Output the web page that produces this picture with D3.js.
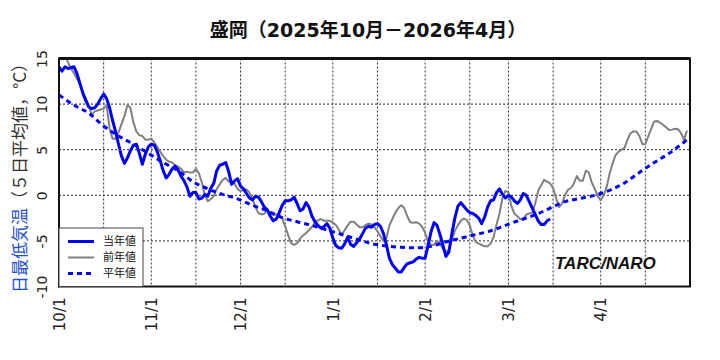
<!DOCTYPE html>
<html><head><meta charset="utf-8">
<script src="https://cdn.jsdelivr.net/npm/d3@7"></script>
<style>body{margin:0;background:#fff;}svg{display:block;}</style>
</head><body>
<script>
// ---- data (day offsets from 2025-10-01) ----
const startDate = new Date(2025, 9, 1);
const endDate = new Date(2026, 4, 1);
const monthLabels = ["10/1","11/1","12/1","1/1","2/1","3/1","4/1"];
const yTicks = [15, 10, 5, 0, -5, -10];
const legendLabels = ["当年値", "前年値", "平年値"];

// 当年値 (daily, from 10/1)
const currentValues = [
 14.1,13.6,14.1,13.9,14.0,14.1,13.4,12.3,11.2,10.4,
 9.7,9.5,9.6,10.0,10.6,11.1,10.6,9.6,8.2,7.0,
 5.6,4.3,3.5,4.1,4.9,5.5,5.6,4.6,3.4,4.5,
 5.3,5.6,5.5,4.8,3.8,2.7,1.9,2.3,2.9,3.2,
 2.8,2.1,1.6,0.9,-0.1,0.3,0.3,-0.4,-0.3,0.1,
 -0.1,0.8,1.3,2.7,3.3,3.4,3.6,2.6,1.2,1.6,
 1.8,1.0,0.7,0.2,-0.3,-0.5,-0.1,-0.2,-0.7,-1.3,
 -1.6,-2.3,-2.8,-2.6,-1.9,-1.1,-0.6,-0.6,-0.5,-0.2,
 -0.9,-1.7,-1.5,-0.8,-1.3,-2.3,-2.9,-3.3,-3.6,-3.45,
 -3.1,-3.6,-4.7,-5.5,-5.75,-5.8,-5.3,-4.6,-5.4,-5.6,
 -5.2,-4.8,-4.2,-3.6,-3.4,-3.5,-3.2,-3.1,-3.4,-4.2,
 -5.4,-6.9,-7.6,-8.0,-8.4,-8.4,-7.9,-7.5,-7.4,-7.3,
 -7.0,-6.8,-6.9,-6.9,-5.5,-4.0,-3.0,-3.3,-4.3,-5.5,
 -6.7,-6.2,-4.2,-2.5,-1.2,-0.8,-1.2,-1.6,-1.9,-2.0,
 -2.2,-2.5,-3.1,-2.4,-1.3,-0.6,-0.5,0.3,0.7,0.1,
 -0.3,0.0,-0.2,-0.6,-0.9,-0.5,0.2,0.0,-0.7,-1.4,
 -2.1,-2.8,-3.2,-3.2,-2.8,-2.6
];

// 前年値 (daily, from 10/1)
const previousValues = [
 16.2,15.8,15.3,14.6,13.9,13.4,12.8,12.2,11.4,10.6,
 9.8,8.8,9.2,9.3,9.4,9.5,9.9,7.3,6.2,6.2,
 6.9,7.8,8.7,9.9,9.6,8.0,7.0,6.6,6.5,6.1,
 6.1,6.2,5.8,5.3,4.8,4.3,3.9,3.7,3.6,3.3,
 3.15,2.9,2.5,2.6,2.5,2.5,2.9,2.4,1.4,0.0,
 -0.65,-0.4,-0.1,0.7,1.2,1.7,1.9,1.5,1.4,1.3,
 0.7,0.45,0.6,0.65,0.3,-0.4,-1.3,-1.95,-2.1,-2.0,
 -1.6,-2.0,-2.15,-2.1,-2.1,-2.5,-3.4,-4.4,-5.25,-5.45,
 -5.25,-4.75,-4.4,-4.15,-3.8,-3.45,-3.0,-2.75,-2.6,-2.8,
 -2.8,-2.8,-3.0,-3.25,-3.75,-4.3,-3.8,-3.3,-2.9,-2.9,
 -3.2,-3.5,-3.5,-3.25,-3.1,-3.2,-3.5,-3.95,-4.5,-5.0,
 -4.7,-3.3,-2.6,-1.9,-1.4,-1.1,-1.4,-2.3,-2.95,-3.0,
 -2.95,-3.1,-3.45,-4.1,-5.1,-5.4,-5.45,-5.0,-5.3,-5.9,
 -6.2,-6.0,-4.9,-3.9,-3.3,-2.8,-2.55,-2.7,-3.3,-4.4,
 -5.1,-5.3,-5.45,-5.6,-5.6,-5.3,-4.6,-3.2,-2.0,-0.3,
 0.5,0.3,-1.2,-2.0,-2.3,-2.6,-2.7,-2.1,-2.0,-1.9,
 -0.9,0.5,1.1,1.7,1.5,1.3,0.8,-0.3,-1.3,-0.9,
 0.0,0.6,0.8,1.3,2.1,1.6,1.6,2.7,2.5,1.4,
 0.7,-0.1,-0.55,0.0,0.9,2.4,3.5,4.4,4.8,5.0,
 5.2,6.1,6.8,7.0,7.0,6.5,5.6,5.6,6.5,7.3,
 8.1,8.15,7.95,7.7,7.45,7.15,7.2,7.3,7.25,6.8,
 6.1,7.1
];

// 平年値
const normalDays = [0,5,10,15,20,25,30,35,40,45,50,55,60,65,70,75,80,85,90,95,100,105,110,115,120,125,130,135,140,145,150,155,160,165,170,175,180,185,190,195,200,205,211];
const normalValues = [11.0,9.9,9.0,7.6,6.5,5.6,4.6,3.6,2.7,1.5,0.7,0.1,-0.4,-1.1,-1.7,-2.45,-2.9,-3.3,-3.8,-4.3,-4.8,-5.3,-5.55,-5.7,-5.75,-5.6,-5.1,-4.7,-4.3,-3.9,-3.3,-2.7,-2.15,-1.4,-0.7,-0.35,0.0,0.55,1.35,2.5,3.6,4.6,6.1];

// ---- chart ----
const W = 720, H = 360;
const L = 59, R = 690, T = 58.5, B = 286.5;
const svg = d3.select("body").append("svg").attr("width", W).attr("height", H);

const x = d3.scaleTime().domain([startDate, endDate]).range([L, R]);
const y = d3.scaleLinear().domain([-10, 15]).range([B, T]);
const dayDate = d => d3.timeDay.offset(startDate, d);

const font = "'DejaVu Sans', 'Noto Sans CJK JP', sans-serif";

// title
svg.append("text").attr("x", 368).attr("y", 37).attr("text-anchor", "middle")
  .style("font-family", font).style("font-size", "19px").style("font-weight", "bold")
  .attr("fill", "#111").text("盛岡（2025年10月－2026年4月）");

// y axis title
const yt = svg.append("text").attr("transform", "translate(20,174) rotate(-90)")
  .attr("text-anchor", "middle").attr("dy", "0.35em")
  .style("font-family", "'Noto Sans CJK JP', sans-serif").style("font-size", "17px");
yt.append("tspan").attr("fill", "#1f50d0").text("日最低気温");
yt.append("tspan").attr("fill", "#333").text("（５日平均値，°C）");

// white plot background
svg.append("rect").attr("x", L).attr("y", T).attr("width", R - L).attr("height", B - T).attr("fill", "#fff");

// grid
const grid = svg.append("g");
grid.selectAll("line.h").data([10, 5, 0, -5]).join("line")
  .attr("x1", L).attr("x2", R).attr("y1", d => y(d)).attr("y2", d => y(d))
  .attr("stroke", "#222").attr("stroke-width", 1).attr("stroke-dasharray", "2,2");
const vDates = [];
for (let m = 0; m < 7; m++) {
  const first = new Date(2025, 9 + m, 1);
  const mid = new Date(2025, 9 + m, 16);
  if (m > 0) vDates.push(first);
  vDates.push(mid);
}
grid.selectAll("line.v").data(vDates).join("line")
  .attr("x1", d => x(d)).attr("x2", d => x(d)).attr("y1", T).attr("y2", B)
  .attr("stroke", "#333").attr("stroke-width", 1).attr("stroke-dasharray", "2,2");

// clip
svg.append("clipPath").attr("id", "clip").append("rect")
  .attr("x", L).attr("y", T).attr("width", R - L).attr("height", B - T);
const plot = svg.append("g").attr("clip-path", "url(#clip)");

const line = d3.line().x(d => x(dayDate(d[0]))).y(d => y(d[1]));

plot.append("path").datum(previousValues.map((v, i) => [i, v]))
  .attr("d", line).attr("fill", "none").attr("stroke", "#808080").attr("stroke-width", 2)
  .attr("stroke-linejoin", "round");

plot.append("path").datum(normalDays.map((d, i) => [d, normalValues[i]]))
  .attr("d", line.curve(d3.curveMonotoneX)).attr("fill", "none").attr("stroke", "#0000ff")
  .attr("stroke-width", 3).attr("stroke-dasharray", "5,4");
line.curve(d3.curveLinear);

plot.append("path").datum(currentValues.map((v, i) => [i, v]))
  .attr("d", line).attr("fill", "none").attr("stroke", "#0000ff").attr("stroke-width", 3)
  .attr("stroke-linejoin", "round");

// frame
svg.append("rect").attr("x", L).attr("y", T).attr("width", R - L).attr("height", B - T)
  .attr("fill", "none").attr("stroke", "#111").attr("stroke-width", 2);
svg.append("line").attr("x1", L).attr("x2", R).attr("y1", T).attr("y2", T)
  .attr("stroke", "#111").attr("stroke-width", 3);

// x axis labels
const monthDates = monthLabels.map((s, i) => new Date(2025, 9 + i, 1));
const xAxis = d3.axisBottom(x).tickValues(monthDates).tickSize(0)
  .tickFormat((d, i) => monthLabels[i]);
const gx = svg.append("g").attr("transform", `translate(0,${B})`).call(xAxis);
gx.select(".domain").remove();
gx.selectAll("text").attr("transform", "translate(0,11) rotate(-90)")
  .attr("text-anchor", "end").attr("x", 0).attr("y", 0).attr("dy", "0.35em")
  .style("font-family", font).style("font-size", "15px").attr("fill", "#222");

// y axis labels
const yAxis = d3.axisLeft(y).tickValues(yTicks).tickSize(0).tickFormat(d => d);
const gy = svg.append("g").attr("transform", `translate(${L},0)`).call(yAxis);
gy.select(".domain").remove();
gy.selectAll("text").attr("transform", "translate(-17,0) rotate(-90)")
  .attr("text-anchor", "middle").attr("x", 0).attr("y", 0).attr("dy", "0.35em")
  .style("font-family", font).style("font-size", "14px").attr("fill", "#222");

// legend
const lg = svg.append("g");
lg.append("rect").attr("x", L).attr("y", 228).attr("width", 84).attr("height", B - 228)
  .attr("fill", "#fff").attr("stroke", "#444").attr("stroke-width", 1);
const styles = [
  {c: "#0000ff", w: 3, d: null},
  {c: "#808080", w: 2, d: null},
  {c: "#0000ff", w: 3, d: "5,4"}
];
legendLabels.forEach((t, i) => {
  const yy = 241.5 + i * 16;
  lg.append("line").attr("x1", 68).attr("x2", 94).attr("y1", yy).attr("y2", yy)
    .attr("stroke", styles[i].c).attr("stroke-width", styles[i].w)
    .attr("stroke-dasharray", styles[i].d);
  lg.append("text").attr("x", 103).attr("y", yy).attr("dy", "0.35em")
    .style("font-family", "'Noto Sans CJK JP', sans-serif").style("font-size", "11px")
    .attr("fill", "#111").text(t);
});

// credit
svg.append("text").attr("x", 555).attr("y", 269)
  .style("font-family", "'Liberation Sans', Arial, sans-serif").style("font-size", "17px")
  .style("font-weight", "bold").style("font-style", "italic").attr("fill", "#111").text("TARC/NARO");
</script>
</body></html>
